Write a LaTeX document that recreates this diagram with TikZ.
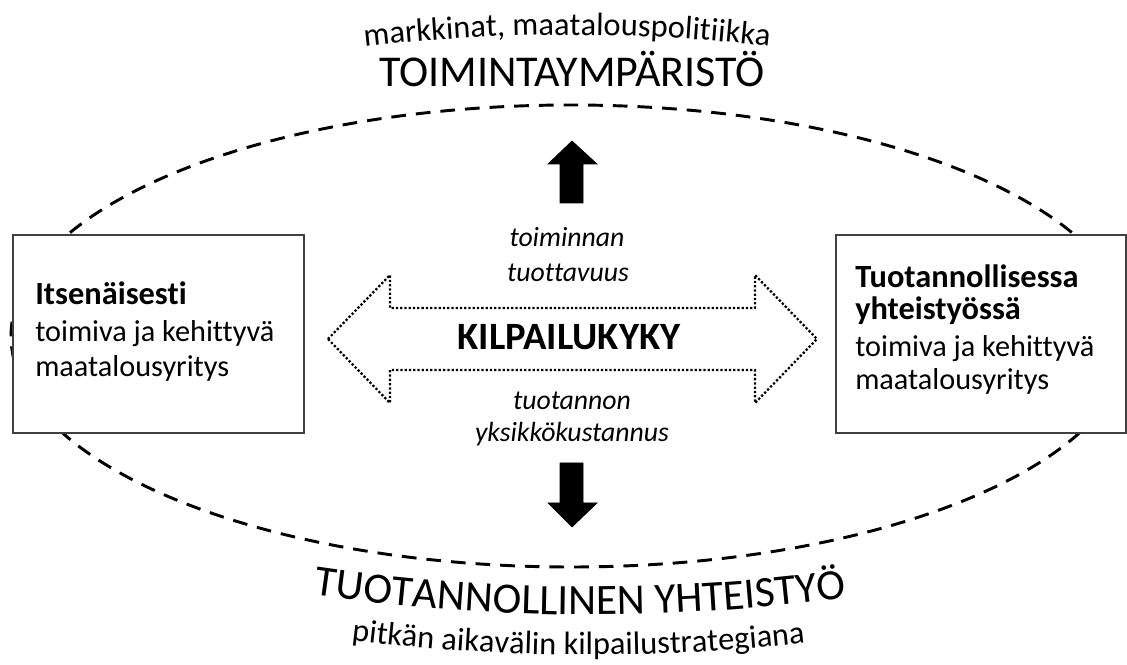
\documentclass[tikz,border=0pt]{standalone}
\usepackage{fontspec}
\setmainfont{Carlito}[Ligatures={NoCommon}]
\usetikzlibrary{decorations.text}
\begin{document}
\begin{tikzpicture}[x=0.75pt,y=0.75pt,
  ellipsedash/.style={line width=2.2pt, dash pattern=on 11pt off 7.5pt},
  boxnode/.style={draw=black!75, line width=0.9pt, fill=white, inner sep=0pt},
  boxtext/.style={anchor=base west, inner sep=0pt, font=\fontsize{22.7}{27}\selectfont},
  boldtext/.style={anchor=base west, inner sep=0pt, font=\fontsize{24.3}{28}\selectfont\bfseries},
  smallit/.style={anchor=base, inner sep=0pt, font=\fontsize{20.8}{25}\selectfont\itshape},
  blockarrow/.style={fill=black, draw=black, line width=0.5pt, line join=miter},
  dotarrow/.style={draw=black, line width=1.7pt, dash pattern=on 1.7pt off 1.5pt, fill=white},
  ]
\useasboundingbox (0,0) rectangle (1127,664);

% dashed ellipse
\draw[ellipsedash] (571,328) ellipse [x radius=560, y radius=231];

% side boxes
\node[boxnode, minimum width=218.25pt, minimum height=148.5pt] (lbox) at (158.5,330) {};
\node[boxnode, minimum width=217.5pt, minimum height=148.5pt] (rbox) at (981,330) {};

\node[boldtext] (l1) at (35,359) {Itsenäisesti};
\node[boxtext] (l2) at (35,322) {toimiva ja kehittyvä};
\node[boxtext] (l3) at (35,287) {maatalousyritys};

\node[boldtext] (r1) at (855,376) {Tuotannollisessa};
\node[boldtext] (r2) at (855,344) {yhteistyössä};
\node[boxtext] (r3) at (855,307) {toimiva ja kehittyvä};
\node[boxtext] (r4) at (855,274) {maatalousyritys};

% central dotted double arrow
\draw[dotarrow] (328,325) -- (390,389) -- (390,356) -- (755,356) -- (755,389)
  -- (817,325) -- (755,261) -- (755,294) -- (390,294) -- (390,261) -- cycle;
\node[anchor=base, inner sep=0pt, font=\fontsize{29}{34}\selectfont\bfseries] (kil) at (569,314) {KILPAILUKYKY};

% up and down block arrows
\fill[blockarrow] (560,461) -- (560,500) -- (548,500) -- (572,523) -- (597,500) -- (583,500) -- (583,461) -- cycle;
\fill[blockarrow] (560,201) -- (583,201) -- (583,161) -- (597,161) -- (572,137) -- (548,161) -- (560,161) -- cycle;

% italic labels
\node[smallit] (t1) at (567,417) {toiminnan};
\node[smallit] (t2) at (568,382) {tuottavuus};
\node[smallit] (t3) at (572,254) {tuotannon};
\node[smallit] (t4) at (572,222) {yksikkökustannus};

% top texts
\node[anchor=base, inner sep=0pt, font=\fontsize{33}{38}\selectfont] (env) at (572,577) {TOIMINTAYMPÄRISTÖ};
\path[decorate, decoration={text along path, text align=center,
  text={|\fontsize{24.3}{28}\selectfont|markkinat, maatalouspolitiikka}}]
  (567,-1171) ++(98:1800) arc[start angle=98, end angle=82, radius=1800];

% bottom texts
\path[decorate, decoration={text along path, text align=center,
  text={|\fontsize{32.5}{37}\selectfont|TUOTANNOLLINEN YHTEISTYÖ}}]
  (590,1949) ++(259.7:1900) arc[start angle=259.7, end angle=279.7, radius=1900];
\path[decorate, decoration={text along path, text align=center,
  text={|\fontsize{24.3}{28}\selectfont|pitkän aikavälin kilpailustrategiana}}]
  (590,1949) ++(260:1940) arc[start angle=260, end angle=279.3, radius=1940];
\end{tikzpicture}
\end{document}
